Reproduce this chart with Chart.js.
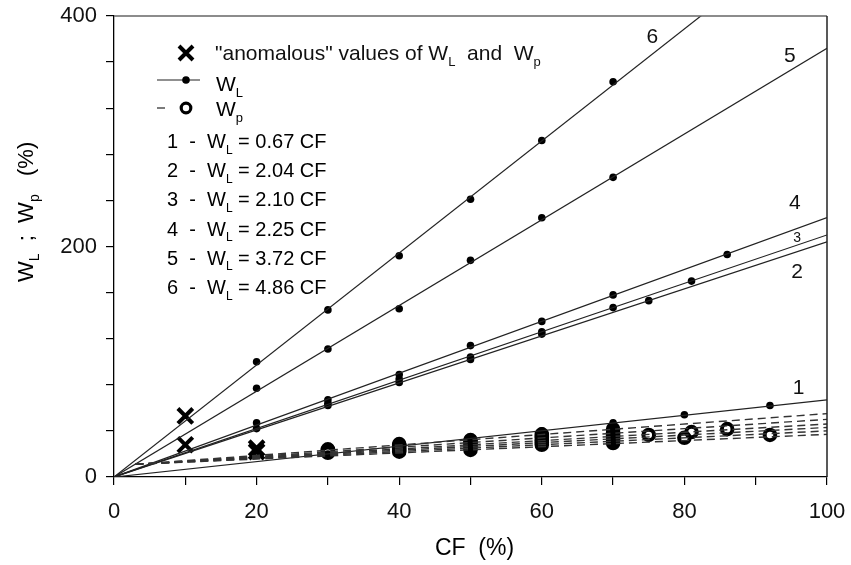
<!DOCTYPE html>
<html><head><meta charset="utf-8">
<script src="https://cdn.jsdelivr.net/npm/chart.js@4.4.0/dist/chart.umd.min.js"></script>
<style>html,body{margin:0;padding:0;background:#fff;}#wrap{width:851px;height:565px;position:relative;}</style>
</head><body><div id="wrap"><canvas id="c" width="851" height="565"></canvas></div>
<script>
// ---- data ----
const lineSlopes = [0.67, 2.04, 2.10, 2.25, 3.72, 4.86];
const lineNames = ['1', '2', '3', '4', '5', '6'];
const wl1X = [30, 40, 50, 60, 70, 80, 92];
const wl1Y = [20, 27, 33, 40, 47, 54, 62];
const wl2X = [20, 30, 40, 50, 60, 75];
const wl2Y = [42, 62, 82, 102, 124, 153];
const wl3X = [30, 40, 50, 60, 70, 81];
const wl3Y = [64, 85, 104, 126, 147, 170];
const wl4X = [20, 30, 40, 50, 60, 70, 86];
const wl4Y = [47, 67, 89, 114, 135, 158, 193];
const wl5X = [20, 30, 40, 50, 60, 70];
const wl5Y = [77, 111, 146, 188, 225, 260];
const wl6X = [20, 30, 40, 50, 60, 70];
const wl6Y = [100, 145, 192, 241, 292, 343];
const wpX = [30, 30, 30, 30, 40, 40, 40, 40, 40, 40, 50, 50, 50, 50, 50, 50, 60, 60, 60, 60, 60, 60, 70, 70, 70, 70, 70, 70, 75, 80, 81, 86, 92];
const wpY = [21, 22, 23, 24, 22, 23.5, 25, 26.5, 27.5, 28.5, 23.5, 25.5, 27.5, 29.5, 31, 32, 28, 30, 32, 34, 35.5, 37, 29.5, 32, 34, 36, 38.5, 41.5, 36.5, 34, 39, 41.5, 36.5];
const wpFitStartX = 3, wpFitStartY = 11;
const wpFitEndY = [55, 50, 46, 43, 40, 37];
const anomX = [10, 10, 20, 20];
const anomY = [53, 28, 25, 22];
const xTickLabels = ['0', '20', '40', '60', '80', '100'];
const yTickLabels = ['0', '100', '200', '300', '400'];

const FONT = '"Liberation Sans", Arial, sans-serif';
const pts = (xs, ys) => xs.map((x, i) => ({x: x, y: ys[i]}));

const datasets = [];
wpFitEndY.forEach(v => datasets.push({
  data: [{x: wpFitStartX, y: wpFitStartY}, {x: 100, y: v}],
  showLine: true, borderColor: '#333', borderWidth: 1.4, borderDash: [8, 5],
  pointRadius: 0, fill: false
}));
lineSlopes.forEach(s => datasets.push({
  data: [{x: 0, y: 0}, {x: 100, y: s * 100}],
  showLine: true, borderColor: '#222', borderWidth: 1.2, pointRadius: 0, fill: false
}));
[[wl1X, wl1Y], [wl2X, wl2Y], [wl3X, wl3Y], [wl4X, wl4Y], [wl5X, wl5Y], [wl6X, wl6Y]].forEach(a => datasets.push({
  data: pts(a[0], a[1]), showLine: false, pointRadius: 3.8, pointBackgroundColor: '#000',
  pointBorderColor: '#000', pointBorderWidth: 0
}));
datasets.push({
  data: pts(wpX, wpY), showLine: false, pointRadius: 5.3, pointBorderWidth: 4,
  pointBackgroundColor: 'rgba(0,0,0,0)', pointBorderColor: '#000'
});
datasets.push({
  data: pts(anomX, anomY), showLine: false, pointStyle: 'crossRot', pointRadius: 10.5,
  pointBorderWidth: 4, pointBorderColor: '#000'
});

function rich(ctx, parts, x, y, size) {
  let cx = x;
  parts.forEach(p => {
    const sub = p[1];
    ctx.font = (sub ? Math.round(size * 0.62) : size) + 'px ' + FONT;
    ctx.fillText(p[0], cx, sub ? y + size * 0.28 : y);
    cx += ctx.measureText(p[0]).width;
  });
  return cx - x;
}

const decor = {
  id: 'decor',
  afterDraw(chart) {
    const ctx = chart.ctx, a = chart.chartArea, xs = chart.scales.x, ys = chart.scales.y;
    ctx.save();
    ctx.lineWidth = 1.5;
    ctx.strokeStyle = '#666';
    ctx.beginPath(); ctx.moveTo(a.left, a.top); ctx.lineTo(a.right, a.top); ctx.stroke();
    ctx.strokeStyle = '#222';
    ctx.beginPath(); ctx.moveTo(a.right, a.top); ctx.lineTo(a.right, a.bottom); ctx.stroke();
    // line labels
    const lx = [96, 95.8, 95.8, 95.5, 94.8, 75.5];
    const ly = [77, 178, 207, 238, 365, 382];
    ctx.fillStyle = '#111';
    ctx.textBaseline = 'middle'; ctx.textAlign = 'center';
    lineNames.forEach((n, i) => {
      ctx.font = (n === '3' ? 14 : 21) + 'px ' + FONT;
      ctx.fillText(n, xs.getPixelForValue(lx[i]), ys.getPixelForValue(ly[i]));
    });
    // legend
    ctx.textAlign = 'left'; ctx.textBaseline = 'alphabetic';
    const S = 20;
    ctx.strokeStyle = '#000'; ctx.lineWidth = 4;
    ctx.beginPath(); ctx.moveTo(179, 46); ctx.lineTo(193, 60); ctx.moveTo(193, 46); ctx.lineTo(179, 60); ctx.stroke();
    rich(ctx, [['"anomalous" values of W', 0], ['L', 1], ['  and  W', 0], ['p', 1]], 215, 60, 21);
    ctx.lineWidth = 1.2; ctx.strokeStyle = '#222';
    ctx.beginPath(); ctx.moveTo(157, 80); ctx.lineTo(200, 80); ctx.stroke();
    ctx.beginPath(); ctx.arc(186, 80, 3.8, 0, Math.PI * 2); ctx.fillStyle = '#000'; ctx.fill();
    rich(ctx, [['W', 0], ['L', 1]], 216, 91, 21);
    ctx.beginPath(); ctx.moveTo(157, 108); ctx.lineTo(165, 108); ctx.stroke();
    ctx.lineWidth = 3.2; ctx.strokeStyle = '#000';
    ctx.beginPath(); ctx.arc(186, 108, 4.8, 0, Math.PI * 2); ctx.stroke();
    rich(ctx, [['W', 0], ['p', 1]], 216, 116, 21);
    lineSlopes.forEach((s, i) => {
      rich(ctx, [[lineNames[i] + '  -  W', 0], ['L', 1], [' = ' + s.toFixed(2) + ' CF', 0]], 167, 148 + i * 29.2, S);
    });
    // x title
    ctx.font = '23px ' + FONT; ctx.textAlign = 'center'; ctx.textBaseline = 'middle';
    ctx.fillText('CF  (%)', (a.left + a.right) / 2 + 4, 549);
    // y title
    ctx.translate(33, 282); ctx.rotate(-Math.PI / 2);
    ctx.textAlign = 'left'; ctx.textBaseline = 'alphabetic';
    rich(ctx, [['W', 0], ['L', 1], ['  ;  W', 0], ['p', 1], ['   (%)', 0]], 0, 0, 22);
    ctx.restore();
  }
};

new Chart(document.getElementById('c'), {
  type: 'scatter',
  data: {datasets: datasets},
  options: {
    responsive: false, animation: false, devicePixelRatio: 1,
    layout: {padding: {left: 0, right: 24, top: 16, bottom: 0}},
    plugins: {legend: {display: false}, tooltip: {enabled: false}},
    scales: {
      x: {
        type: 'linear', min: 0, max: 100,
        afterFit: s => { s.height = 88; s.paddingLeft = 0; s.paddingRight = 0; },
        border: {display: true, color: '#000', width: 1.3},
        grid: {display: true, drawOnChartArea: false, drawTicks: true, tickLength: 8, color: '#000', lineWidth: 1.2},
        ticks: {stepSize: 10, padding: 14, color: '#111', font: {family: FONT, size: 22},
          callback: v => (v % 20 === 0 ? xTickLabels[v / 20] : '')}
      },
      y: {
        type: 'linear', min: 0, max: 400,
        afterFit: s => { s.width = 114; s.paddingTop = 0; s.paddingBottom = 0; },
        border: {display: true, color: '#000', width: 1.3},
        grid: {display: true, drawOnChartArea: false, drawTicks: true, tickLength: 8, color: '#000', lineWidth: 1.2},
        ticks: {stepSize: 20, padding: 9, color: '#111', font: {family: FONT, size: 22},
          callback: v => (v % 100 === 0 ? yTickLabels[v / 100] : '')}
      }
    }
  },
  plugins: [decor]
});
</script></body></html>
